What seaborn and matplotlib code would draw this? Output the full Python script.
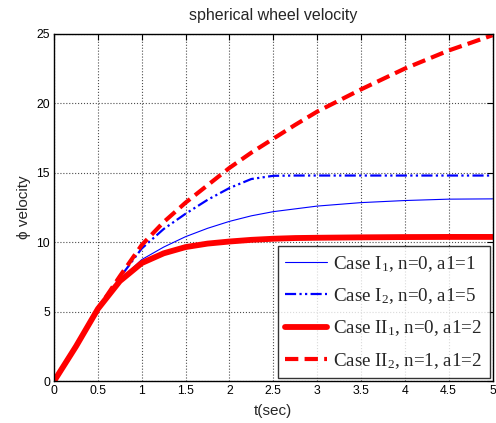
import numpy as np
import pandas as pd
import matplotlib
matplotlib.use("Agg")
import matplotlib.pyplot as plt
import seaborn as sns

# ---- data ----
t = [0, 0.1, 0.25, 0.5, 0.75, 1.0, 1.25, 1.5, 1.75, 2.0, 2.25, 2.5, 2.75, 3.0, 3.5, 4.0, 4.5, 5.0]
case_I1 = [0, 1.0, 2.5, 5.2, 7.3, 8.75, 9.65, 10.4, 11.0, 11.5, 11.9, 12.2, 12.4, 12.6, 12.85, 13.0, 13.1, 13.12]
case_I2 = [0, 1.0, 2.5, 5.2, 7.45, 9.55, 10.95, 12.05, 13.05, 13.9, 14.55, 14.78, 14.8, 14.8, 14.8, 14.8, 14.8, 14.8]
case_II1 = [0, 1.0, 2.5, 5.2, 7.2, 8.5, 9.2, 9.65, 9.9, 10.05, 10.17, 10.25, 10.3, 10.32, 10.35, 10.37, 10.38, 10.38]
case_II2 = [0, 1.0, 2.5, 5.2, 7.55, 9.8, 11.45, 12.85, 14.1, 15.35, 16.45, 17.45, 18.45, 19.4, 21.0, 22.5, 23.8, 24.9]

labels = ["Case I$_1$, n=0, a1=1", "Case I$_2$, n=0, a1=5",
          "Case II$_1$, n=0, a1=2", "Case II$_2$, n=1, a1=2"]
xticks = [0, 0.5, 1, 1.5, 2, 2.5, 3, 3.5, 4, 4.5, 5]
xticklabels = ["0", "0.5", "1", "1.5", "2", "2.5", "3", "3.5", "4", "4.5", "5"]
yticks = [0, 5, 10, 15, 20, 25]

sns.set_style("white")
plt.rcParams["font.family"] = ["Liberation Sans", "DejaVu Sans"]
plt.rcParams["mathtext.fontset"] = "custom"
plt.rcParams["mathtext.rm"] = "Liberation Serif"
plt.rcParams["mathtext.it"] = "Liberation Serif:italic"

fig = plt.figure(figsize=(4.96, 4.23), dpi=100)
ax = fig.add_axes([0.109, 0.099, 0.884, 0.821])

series = [case_I1, case_I2, case_II1, case_II2]
styles = [
    dict(color="#0000ff", lw=0.8, ls="-"),
    dict(color="#0000ff", lw=1.6, ls=(0, (5, 1.5, 1, 1.5, 1, 1.5))),
    dict(color="#ff0000", lw=4.2, ls="-"),
    dict(color="#ff0000", lw=3.0, ls=(0, (3.2, 1.5))),
]
for vals, lab, st in zip(series, labels, styles):
    df = pd.DataFrame({"t": t, "v": vals})
    sns.lineplot(data=df, x="t", y="v", ax=ax, label=lab,
                 color=st["color"], linewidth=st["lw"], linestyle=st["ls"])

ax.set_xlim(0, 5)
ax.set_ylim(0, 25)
ax.set_xticks(xticks)
ax.set_xticklabels(xticklabels)
ax.set_yticks(yticks)
ax.grid(True, linestyle=":", color="0.3", linewidth=0.8)
ax.tick_params(direction="in", top=True, right=True, length=4, width=0.8,
               labelsize=8.8, colors="black", pad=3)
for sp in ax.spines.values():
    sp.set_color("black")
    sp.set_linewidth(1.0)

ax.set_title("spherical wheel velocity", fontsize=11.5, pad=10)
ax.set_xlabel("t(sec)", fontsize=11, labelpad=5)
ax.set_ylabel("\u03d5 velocity", fontsize=11, labelpad=4,
              family=["Liberation Sans", "DejaVu Sans"])

leg = ax.legend(loc="lower right", frameon=True, fancybox=False,
                prop={"family": "Liberation Serif", "size": 13.7},
                handlelength=2.2, borderaxespad=0.15, labelspacing=0.66,
                handletextpad=0.3, borderpad=0.4)
leg.get_frame().set_edgecolor("black")
leg.get_frame().set_linewidth(1.0)

fig.savefig("out.png", dpi=100)
